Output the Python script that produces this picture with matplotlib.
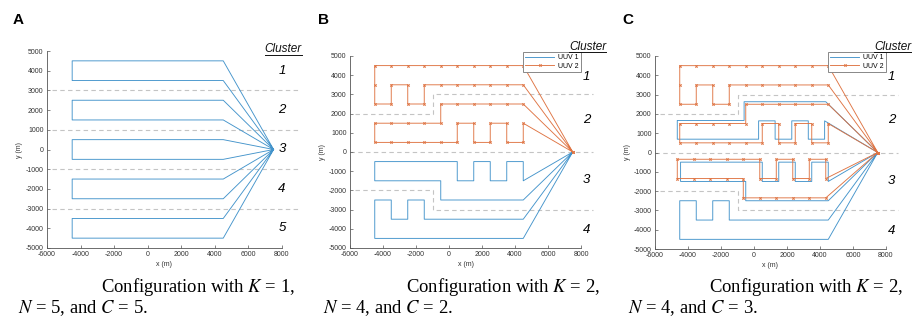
import matplotlib
matplotlib.use('Agg')
import matplotlib.pyplot as plt
from matplotlib.lines import Line2D

plt.rcParams['font.family'] = ['Liberation Sans', 'DejaVu Sans']
plt.rcParams['axes.unicode_minus'] = False
plt.rcParams['mathtext.fontset'] = 'stix'

BLUE = '#4494cb'
ORANGE = '#df7443'
DASH = '#c4c4c4'
AXC = '#555555'

X_TICKS = [-6000, -4000, -2000, 0, 2000, 4000, 6000, 8000]
Y_TICKS = [-5000, -4000, -3000, -2000, -1000, 0, 1000, 2000, 3000, 4000, 5000]
DEPOT = (7500, 0)

# ---------------- Panel A (K=1, N=5, C=5) ----------------
A_LANE_Y = [4500, 3500, 2500, 1500, 500, -500, -1500, -2500, -3500, -4500]
A_LANE_EAST = 4500
A_LANE_WEST = -4500
A_DIVIDERS = [3000, 1000, -1000, -3000]
A_CLUSTER_NAMES = ['1', '2', '3', '4', '5']
A_CLUSTER_Y = [4000, 2000, 0, -2000, -4000]

# ---------------- Panel B / C waypoint routes ----------------
# UUV 2, cluster 1 (waypoints every 1000 m)
U2_C1_X = [4500, 3500, 2500, 1500, 500, -500, -1500, -2500, -3500, -4500,
           -4500, -4500, -3500, -3500, -2500, -2500, -1500, -1500,
           -500, 500, 1500, 2500, 3500, 4500]
U2_C1_Y = [4500] * 10 + [3500, 2500, 2500, 3500, 3500, 2500, 2500, 3500] + [3500] * 6

# UUV 2, cluster 2
U2_C2_X = [4500, 3500, 2500, 1500, 500, -500,
           -500, -1500, -2500, -3500, -4500,
           -4500, -3500, -2500, -1500, -500, 500,
           500, 1500, 1500, 2500, 2500, 3500, 3500, 4500, 4500]
U2_C2_Y = [2500] * 6 + [1500] * 5 + [500] * 6 + [1500, 1500, 500, 500, 1500, 1500, 500, 500, 1500]

# UUV 2, cluster 3 (panel C only)
U2_C3_X = [4350, 3350, 2350, 1350, 350, -650,
           -650, -1650, -2650, -3650, -4650,
           -4650, -3650, -2650, -1650, -650, 350,
           350, 1350, 1350, 2350, 2350, 3350, 3350, 4350, 4350]
U2_C3_Y = [-2350] * 6 + [-1350] * 5 + [-350] * 6 + [-1350, -1350, -350, -350, -1350, -1350, -350, -350, -1350]

# UUV 1, cluster 2 (panel C only)
U1_C2_X = [4350, -600, -600, -4650, -4650, 280, 280, 1280, 1280, 2290, 2290, 3290, 3290, 4280, 4280]
U1_C2_Y = [2630, 2630, 1660, 1660, 690, 690, 1640, 1640, 690, 690, 1640, 1640, 690, 690, 1640]

# UUV 1, cluster 3
U1_C3_X = [4500, -500, -500, -4500, -4500, 500, 500, 1500, 1500, 2500, 2500, 3500, 3500, 4500, 4500]
U1_C3_Y = [-2500, -2500, -1500, -1500, -500, -500, -1500, -1500, -500, -500, -1500, -1500, -500, -500, -1500]
U1_C3C_X = [4500, -500, -500, -4450, -4450, 500, 500, 1500, 1500, 2500, 2500, 3500, 3500, 4500, 4500]

# UUV 1, cluster 4
U1_C4_X = [4500, -4500, -4500, -3500, -3500, -2500, -2500, -1500, -1500, 4500]
U1_C4_Y = [-4500, -4500, -2500, -2500, -3500, -3500, -2500, -2500, -3500, -3500]

# Cluster dividers for B / C
DIV_UP_X = [-5700, -1000, -1000, 8750]
DIV_UP_Y = [2000, 2000, 3000, 3000]
DIV_MID_X = [-6000, 8750]
DIV_MID_Y = [0, 0]
DIV_LO_X = [-5700, -1000, -1000, 8750]
DIV_LO_Y = [-2000, -2000, -3000, -3000]
BC_CLUSTER_NAMES = ['1', '2', '3', '4']
BC_CLUSTER_Y = [3900, 1670, -1460, -4060]

CAPTIONS = [("Configuration with $K$ = 1,", "$N$ = 5, and $C$ = 5."),
            ("Configuration with $K$ = 2,", "$N$ = 4, and $C$ = 2."),
            ("Configuration with $K$ = 2,", "$N$ = 4, and $C$ = 3.")]
LETTERS = ['A', 'B', 'C']


def route(*segments):
    xs, ys = [DEPOT[0]], [DEPOT[1]]
    for sx, sy in segments:
        xs += list(sx) + [DEPOT[0]]
        ys += list(sy) + [DEPOT[1]]
    return xs, ys


W, H = 914, 322
fig = plt.figure(figsize=(W / 100, H / 100), dpi=100)


def make_ax(l, r, t, b):
    ax = fig.add_axes([l / W, 1 - b / H, (r - l) / W, (b - t) / H])
    ax.set_xlim(-6000, 8000)
    ax.set_ylim(-5000, 5000)
    ax.set_xticks(X_TICKS)
    ax.set_yticks(Y_TICKS)
    for s in ['top', 'right']:
        ax.spines[s].set_visible(False)
    for s in ['left', 'bottom']:
        ax.spines[s].set_color(AXC)
        ax.spines[s].set_linewidth(0.6)
    ax.tick_params(direction='in', length=2, width=0.5, colors=AXC,
                   labelsize=5, labelcolor='#333333', pad=2.5)
    ax.set_xlabel('x (m)', fontsize=5, color='#333333', labelpad=1.5)
    ax.set_ylabel('y (m)', fontsize=5, color='#333333', labelpad=1.5)
    return ax


def cluster_header(ax, x, y):
    t = ax.text(x, y, 'Cluster', fontsize=8.5, style='italic', ha='center', va='center',
                color='#111111', clip_on=False)
    return t


axA = make_ax(47, 282, 51, 248)
axB = make_ax(350, 581, 56, 248)
axC = make_ax(655, 886, 56, 249)

LW = 0.65
MK = dict(marker='x', ms=1.7, mew=0.7)

# Panel A
for yv in A_DIVIDERS:
    axA.plot([-5700, 8950], [yv, yv], ls=(0, (4, 3)), color=DASH, lw=0.8, clip_on=False, zorder=1)
segs = []
for i in range(0, len(A_LANE_Y), 2):
    y1, y2 = A_LANE_Y[i], A_LANE_Y[i + 1]
    segs.append(([A_LANE_EAST, A_LANE_WEST, A_LANE_WEST, A_LANE_EAST], [y1, y1, y2, y2]))
ax_, ay_ = route(*segs)
axA.plot(ax_, ay_, color=BLUE, lw=LW, zorder=3)
for nm, yv in zip(A_CLUSTER_NAMES, A_CLUSTER_Y):
    axA.text(8000, yv, nm, fontsize=9.5, style='italic', ha='center', va='center', clip_on=False)
hdrA = cluster_header(axA, 8080, 5080)

# Panels B and C
for ax in (axB, axC):
    for dx, dy in ((DIV_UP_X, DIV_UP_Y), (DIV_MID_X, DIV_MID_Y), (DIV_LO_X, DIV_LO_Y)):
        ax.plot(dx, dy, ls=(0, (4, 3)), color=DASH, lw=0.8, clip_on=False, zorder=1)
    for nm, yv in zip(BC_CLUSTER_NAMES, BC_CLUSTER_Y):
        ax.text(8350, yv, nm, fontsize=9.5, style='italic', ha='center', va='center', clip_on=False)

hdrB = cluster_header(axB, 8420, 5480)
hdrC = cluster_header(axC, 8420, 5480)

bx1, by1 = route((U1_C3_X, U1_C3_Y), (U1_C4_X, U1_C4_Y))
bx2, by2 = route((U2_C1_X, U2_C1_Y), (U2_C2_X, U2_C2_Y))
axB.plot(bx1, by1, color=BLUE, lw=LW, zorder=3, label='UUV 1')
axB.plot(bx2, by2, color=ORANGE, lw=LW, zorder=4, label='UUV 2', **MK)

cx1, cy1 = route((U1_C2_X, U1_C2_Y), (U1_C3C_X, U1_C3_Y), (U1_C4_X, U1_C4_Y))
cx2, cy2 = route((U2_C1_X, U2_C1_Y), (U2_C2_X, U2_C2_Y), (U2_C3_X, U2_C3_Y))
axC.plot(cx1, cy1, color=BLUE, lw=LW, zorder=3, label='UUV 1')
axC.plot(cx2, cy2, color=ORANGE, lw=LW, zorder=4, label='UUV 2', **MK)

for ax in (axB, axC):
    leg = ax.legend(loc='upper right', bbox_to_anchor=(1.0, 1.02), fontsize=5, numpoints=1,
                    handlelength=4.2, handletextpad=0.6, borderpad=0.3, labelspacing=0.2,
                    fancybox=False, framealpha=1, edgecolor='#888888', borderaxespad=0)
    leg.get_frame().set_linewidth(0.7)

# underline the "Cluster" headers
fig.canvas.draw()
rend = fig.canvas.get_renderer()
for ax, t in ((axA, hdrA), (axB, hdrB), (axC, hdrC)):
    bb = t.get_window_extent(renderer=rend)
    inv = fig.transFigure.inverted()
    (x0, y0), (x1, y1) = inv.transform([(bb.x0, bb.y0), (bb.x1, bb.y1)])
    fig.add_artist(Line2D([x0, x1], [y0 + 0.002, y0 + 0.002], transform=fig.transFigure,
                          color='#111111', lw=0.7))

# panel letters
for lx, L in zip([13, 318, 622], LETTERS):
    fig.text(lx / W, 1 - 24.5 / H, L, fontsize=11, fontweight='bold', ha='left', va='baseline')

# captions
for (l1, l2), rx, lx in zip(CAPTIONS, [295, 600, 903], [18, 323, 628]):
    fig.text(rx / W, 1 - 292 / H, l1, fontsize=13.4, family='Liberation Serif', ha='right', va='baseline')
    fig.text(lx / W, 1 - 313.5 / H, l2, fontsize=13.4, family='Liberation Serif', ha='left', va='baseline')

fig.savefig('out.png', dpi=100)
